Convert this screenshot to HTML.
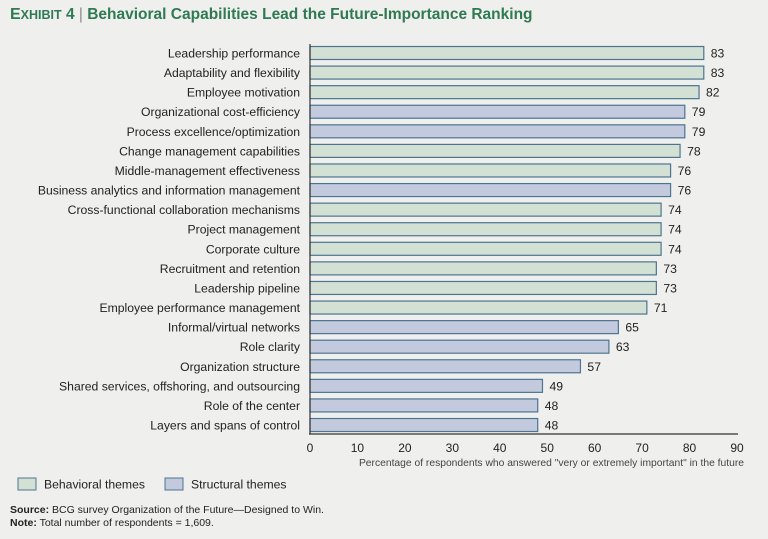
<!DOCTYPE html>
<html><head><meta charset="utf-8"><style>
body{margin:0;background:#efefee;font-family:"Liberation Sans",sans-serif;}
#wrap{position:relative;width:768px;height:539px;overflow:hidden;background:#efefee;}
.title{position:absolute;left:10px;top:6px;font-size:15.5px;font-weight:bold;color:#2f7a52;white-space:nowrap;}
.note{position:absolute;left:10px;font-size:10.5px;color:#222;}
</style></head><body>
<div id="wrap">
<div class="title"><span style="font-size:16px">E</span><span style="font-size:12.5px">XHIBIT</span> 4 <span style="font-weight:normal;color:#888">|</span> Behavioral Capabilities Lead the Future-Importance Ranking</div>
<svg id="chart" width="768" height="539" style="position:absolute;left:0;top:0"></svg>
<div class="note" style="top:504px"><b>Source:</b> BCG survey Organization of the Future—Designed to Win.</div>
<div class="note" style="top:517px"><b>Note:</b> Total number of respondents = 1,609.</div>
</div>
<script>
const categories=["Leadership performance","Adaptability and flexibility","Employee motivation","Organizational cost-efficiency","Process excellence/optimization","Change management capabilities","Middle-management effectiveness","Business analytics and information management","Cross-functional collaboration mechanisms","Project management","Corporate culture","Recruitment and retention","Leadership pipeline","Employee performance management","Informal/virtual networks","Role clarity","Organization structure","Shared services, offshoring, and outsourcing","Role of the center","Layers and spans of control"];
const values=[83,83,82,79,79,78,76,76,74,74,74,73,73,71,65,63,57,49,48,48];
const themes=["B","B","B","S","S","B","B","S","B","B","B","B","B","B","S","S","S","S","S","S"];
const ticks=[0,10,20,30,40,50,60,70,80,90];
const NS="http://www.w3.org/2000/svg";
const svg=document.getElementById('chart');
const x0=310,x1=737,vmax=90;
const xs=v=>x0+(x1-x0)*v/vmax;
const ys=i=>46.5+i*19.58;
const bh=13;
function mk(t,a){const e=document.createElementNS(NS,t);for(const k in a)e.setAttribute(k,a[k]);svg.appendChild(e);return e;}
const fills={B:"#d3e0d4",S:"#c3cade"};
categories.forEach((c,i)=>{
  const r=mk('rect',{x:xs(0),y:ys(i),width:xs(values[i])-xs(0),height:bh,fill:fills[themes[i]],stroke:"#4d7590","stroke-width":1.2});
  
  
  const t=mk('text',{x:xs(values[i])+7,y:ys(i)+bh/2+4.5,"font-size":"12.2",fill:"#222"});
  t.textContent=values[i];
  
  
  const l=mk('text',{x:300,y:ys(i)+bh/2+4.5,"font-size":"12.2",fill:"#222","text-anchor":"end"});
  l.textContent=c;
  
  
});
const ax=mk('line',{x1:x0-1,x2:x1+1,y1:434,y2:434,stroke:"#333","stroke-width":1.2});


const ay=mk('line',{x1:x0,x2:x0,y1:44,y2:434,stroke:"#333","stroke-width":1.2});


ticks.forEach(v=>{
  const t=mk('text',{x:xs(v),y:452,"font-size":"12",fill:"#222","text-anchor":"middle"});
  t.textContent=v;
  
  
});
const xt=mk('text',{x:x1+7,y:466,"font-size":"10.3",fill:"#444","text-anchor":"end"});
xt.textContent='Percentage of respondents who answered "very or extremely important" in the future';


[["B","Behavioral themes",18],["S","Structural themes",165]].forEach(([k,txt,x])=>{
  const r=mk('rect',{x:x,y:478,width:18,height:12,fill:fills[k],stroke:"#4d7590","stroke-width":1});
  
  
  const t=mk('text',{x:x+26,y:488.5,"font-size":"12.2",fill:"#222"});
  t.textContent=txt;
  
  
});
</script>
</body></html>
